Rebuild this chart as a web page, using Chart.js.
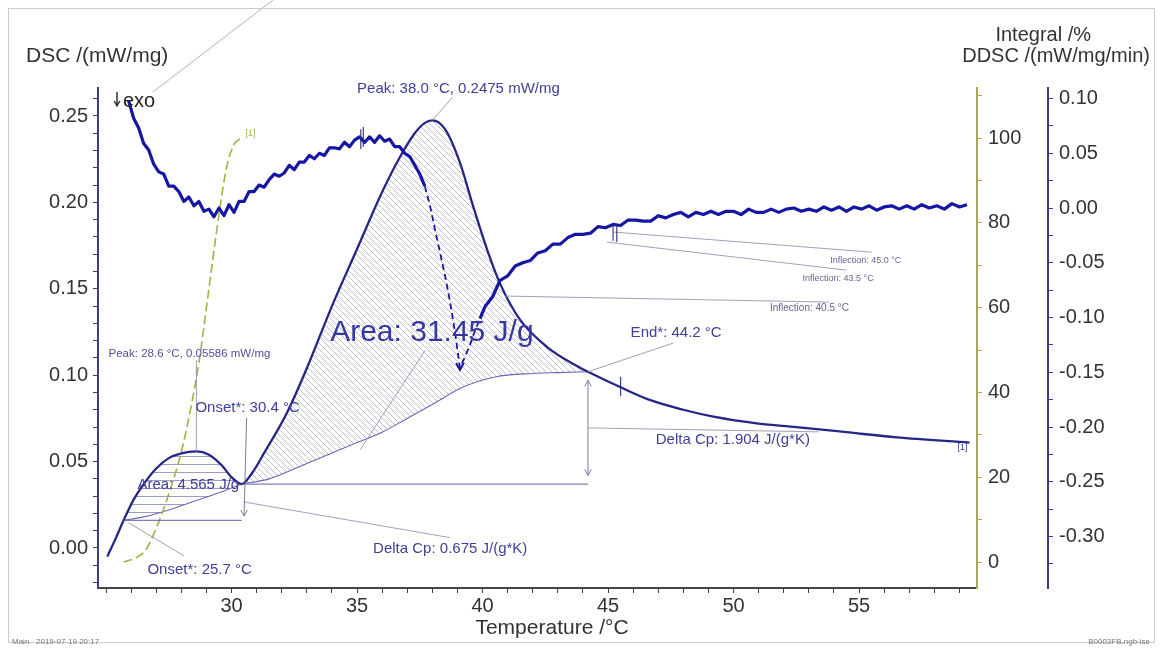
<!DOCTYPE html>
<html lang="en">
<head>
<meta charset="UTF-8">
<title>DSC / DDSC / Integral</title>
<script src="https://cdn.jsdelivr.net/npm/chart.js"></script>
<style>
    html, body { margin: 0; padding: 0; background: #fff; }
    #wrap { position: relative; width: 1161px; height: 650px; }
</style>
</head>
<body>
<div id="wrap"><canvas id="graphique" width="1161" height="650"></canvas></div>
<script>
// DSC heat flow (mW/mg) vs temperature
const dscTemp  = [25.05, 25.4, 25.7, 26.1, 26.5, 27.0, 27.5, 28.0, 28.6, 29.1, 29.6, 30.0, 30.4, 30.8, 31.3, 32.2, 33.0, 34.0, 35.0, 36.0, 36.7, 37.3, 37.7, 38.0, 38.5, 39.1, 39.6, 40.2, 40.7, 41.5, 42.6, 43.8, 44.2, 45.5, 46.6, 48.0, 49.2, 51.0, 52.5, 54.5, 56.5, 59.4];
const dscValue = [-0.005, 0.006, 0.016, 0.028, 0.037, 0.046, 0.052, 0.0548, 0.0559, 0.054, 0.048, 0.041, 0.037, 0.043, 0.055, 0.078, 0.104, 0.140, 0.173, 0.206, 0.226, 0.240, 0.246, 0.2475, 0.2425, 0.223, 0.199, 0.172, 0.153, 0.132, 0.116, 0.105, 0.102, 0.093, 0.086, 0.080, 0.076, 0.072, 0.070, 0.067, 0.064, 0.061];

// baselines used for the two peak areas
const bigBaseTemp    = [30.4, 31.5, 32.7, 34.0, 35.0, 36.0, 37.0, 38.0, 39.2, 40.5, 42.0, 43.0, 44.2];
const bigBaseValue   = [0.037, 0.040, 0.047, 0.055, 0.061, 0.067, 0.075, 0.083, 0.093, 0.099, 0.101, 0.1015, 0.102];
const smallBaseTemp  = [25.7, 26.5, 27.5, 28.5, 29.5, 30.4];
const smallBaseValue = [0.016, 0.018, 0.022, 0.027, 0.032, 0.037];

// partial integral of the first peak (%)
const integralTemp  = [25.7, 26.2, 26.6, 27.0, 27.5, 28.0, 28.4, 28.7, 29.0, 29.5, 29.8, 30.1, 30.4];
const integralValue = [0, 1, 3, 8, 16, 26, 37, 47, 60, 82, 93, 98.5, 100];

// DDSC (mW/mg/min), noisy derivative signal
const ddscTemp = [
    25.9, 26.1, 26.3, 26.5, 26.7, 26.9, 27.1, 27.3, 27.5, 27.7, 27.9, 28.1, 28.3, 28.5, 28.7, 28.9, 29.1, 29.3, 29.5, 29.7,
    29.9, 30.1, 30.3, 30.5, 30.7, 30.9, 31.1, 31.3, 31.5, 31.7, 31.9, 32.1, 32.3, 32.5, 32.7, 32.9, 33.1, 33.3, 33.5, 33.7,
    33.9, 34.1, 34.3, 34.5, 34.7, 34.9, 35.1, 35.3, 35.5, 35.7, 35.9, 36.1, 36.3, 36.5, 36.7, 36.9, 37.1, 37.3, 37.5,
    37.7, 37.9, 38.1, 38.3, 38.5, 38.7, 38.9, 39.1, 39.3, 39.5, 39.7, 39.9,
    40.1, 40.4, 40.7, 41.0, 41.3, 41.6, 41.9, 42.2, 42.5, 42.8, 43.1, 43.4, 43.7, 44.0, 44.3, 44.6, 44.9, 45.2, 45.5, 45.8,
    46.1, 46.4, 46.7, 47.0, 47.3, 47.6, 47.9, 48.2, 48.5, 48.8, 49.1, 49.4, 49.7, 50.0, 50.3, 50.6, 50.9, 51.2, 51.5, 51.8,
    52.1, 52.4, 52.7, 53.0, 53.3, 53.6, 53.9, 54.2, 54.5, 54.8, 55.1, 55.4, 55.7, 56.0, 56.3, 56.6, 56.9, 57.2, 57.5, 57.8,
    58.1, 58.4, 58.7, 59.0, 59.3
];
const ddscValue = [
    0.098, 0.082, 0.073, 0.059, 0.053, 0.040, 0.033, 0.031, 0.020, 0.020, 0.015, 0.006, 0.010, 0.002, 0.006, -0.003, -0.001, -0.008, 0.000, -0.007,
    0.003, -0.004, 0.006, 0.006, 0.015, 0.015, 0.021, 0.019, 0.026, 0.031, 0.029, 0.032, 0.039, 0.035, 0.042, 0.042, 0.048, 0.045, 0.050, 0.048,
    0.055, 0.055, 0.054, 0.060, 0.056, 0.062, 0.065, 0.060, 0.065, 0.060, 0.066, 0.061, 0.063, 0.056, 0.056, 0.050, 0.047, 0.039, 0.031,
    0.020, 0.003, -0.019, -0.040, -0.061, -0.085, -0.113, -0.146, -0.136, -0.125, -0.112, -0.101,
    -0.090, -0.081, -0.066, -0.062, -0.053, -0.050, -0.048, -0.041, -0.039, -0.033, -0.033, -0.027, -0.024, -0.024, -0.023, -0.017, -0.018, -0.015, -0.016, -0.011,
    -0.011, -0.012, -0.012, -0.007, -0.009, -0.006, -0.004, -0.008, -0.004, -0.006, -0.003, -0.006, -0.003, -0.003, -0.006, -0.001, -0.004, -0.004, -0.001, -0.004,
    -0.001, 0.000, -0.003, -0.001, -0.003, 0.001, -0.002, 0.001, -0.003, 0.001, -0.001, 0.002, -0.002, 0.001, 0.002, -0.001, 0.002, -0.001, 0.003, 0.000,
    0.002, -0.001, 0.004, 0.001, 0.003
];

// integration limits (onset / end temperatures)
const smallPeakRange = [25.7, 30.4];
const bigPeakRange = [30.4, 44.2];

// tick labels
const xTickLabels = [30, 35, 40, 45, 50, 55];
const dscTickLabels = [0.00, 0.05, 0.10, 0.15, 0.20, 0.25];
const integralTickLabels = [0, 20, 40, 60, 80, 100];
const ddscTickLabels = [0.10, 0.05, 0.00, -0.05, -0.10, -0.15, -0.20, -0.25, -0.30];

const FONT = '"Liberation Sans", Arial, Helvetica, sans-serif';
const NAVY = 'rgb(38,38,135)';
const NOTE = 'rgb(64,64,150)';
const LEADER = 'rgba(150,150,175,0.9)';
const OLIVE = 'rgb(170,172,70)';

const toPoints = (xs, ys) => xs.map((x, i) => ({ x: x, y: ys[i] }));
const within = (range) => (p) => p.x >= range[0] - 1e-9 && p.x <= range[1] + 1e-9;

const dscPoints = toPoints(dscTemp, dscValue);

// hatch patterns for the integrated areas
const canvas = document.getElementById('graphique');
const mainCtx = canvas.getContext('2d');
function makeHatch(kind) {
    const s = kind === 'diag' ? 6 : 8;
    const c = document.createElement('canvas');
    c.width = s; c.height = s;
    const g = c.getContext('2d');
    g.lineWidth = 1;
    g.beginPath();
    if (kind === 'diag') {
        g.strokeStyle = 'rgba(130,130,160,0.5)';
        for (const k of [-s, 0, s]) { g.moveTo(k, 0); g.lineTo(k + s, s); }
    } else {
        g.strokeStyle = 'rgba(90,90,165,0.6)';
        g.moveTo(0, 0.5); g.lineTo(s, 0.5);
    }
    g.stroke();
    return mainCtx.createPattern(c, 'repeat');
}

function labelFrom(list, digits) {
    return function (value) {
        const hit = list.find(l => Math.abs(l - value) < 1e-6);
        if (hit === undefined) return '';
        return digits ? hit.toFixed(digits) : String(hit);
    };
}

// text notes, placed in (°C, mW/mg) units
const notes = [
    { text: 'Peak: 38.0 °C, 0.2475 mW/mg', t: 35.0, v: 0.2655, size: 15, color: NOTE },
    { text: 'Area: 31.45 J/g', t: 33.93, v: 0.1244, size: 30, color: 'rgb(55,55,160)' },
    { text: 'End*: 44.2 °C', t: 45.9, v: 0.1244, size: 15, color: NOTE },
    { text: 'Delta Cp: 1.904 J/(g*K)', t: 46.9, v: 0.0626, size: 15, color: NOTE },
    { text: 'Inflection: 45.0 °C', t: 53.85, v: 0.1666, size: 9, color: 'rgb(100,100,150)' },
    { text: 'Inflection: 43.5 °C', t: 52.75, v: 0.1561, size: 9, color: 'rgb(100,100,150)' },
    { text: 'Inflection: 40.5 °C', t: 51.45, v: 0.1388, size: 10, color: 'rgb(100,100,150)' },
    { text: 'Peak: 28.6 °C, 0.05586 mW/mg', t: 25.1, v: 0.1123, size: 11.5, color: 'rgb(80,80,155)' },
    { text: 'Onset*: 30.4 °C', t: 28.56, v: 0.0810, size: 15, color: NOTE },
    { text: 'Area: 4.565 J/g', t: 26.25, v: 0.0365, size: 15, color: NOTE },
    { text: 'Delta Cp: 0.675 J/(g*K)', t: 35.64, v: -0.0005, size: 15, color: NOTE },
    { text: 'Onset*: 25.7 °C', t: 26.65, v: -0.0126, size: 15, color: NOTE }
];

// thin leader lines from the notes to the curve features
const leaders = [
    [[38.82, 0.261], [38.0, 0.2475]],
    [[47.6, 0.1186], [44.2, 0.102]],
    [[44.2, 0.0695], [53.4, 0.0672]],
    [[45.24, 0.1828], [55.5, 0.1712]],
    [[44.96, 0.1770], [54.5, 0.1608]],
    [[40.9, 0.1458], [53.8, 0.1423]],
    [[28.6, 0.1088], [28.6, 0.0559]],
    [[30.47, 0.0267], [38.7, 0.006]],
    [[25.9, 0.0146], [28.1, -0.0045]],
    [[37.72, 0.1146], [35.13, 0.057]]
];

function arrowHead(ctx, x, y, dir, size) {
    ctx.beginPath();
    ctx.moveTo(x - size * 0.55, y - dir * size);
    ctx.lineTo(x, y);
    ctx.lineTo(x + size * 0.55, y - dir * size);
    ctx.stroke();
}

const notesPlugin = {
    id: 'dscNotes',
    afterDatasetsDraw(chart) {
        const { ctx, scales } = chart;
        const px = t => scales.x.getPixelForValue(t);
        const py = v => scales.yDsc.getPixelForValue(v);
        const pd = v => scales.yD.getPixelForValue(v);
        ctx.save();

        // leader lines
        ctx.strokeStyle = LEADER;
        ctx.lineWidth = 1;
        leaders.forEach(([a, b]) => {
            ctx.beginPath();
            ctx.moveTo(px(a[0]), py(a[1]));
            ctx.lineTo(px(b[0]), py(b[1]));
            ctx.stroke();
        });

        // extrapolated baselines for the step heights
        ctx.strokeStyle = 'rgba(95,95,170,0.8)';
        ctx.lineWidth = 1.2;
        ctx.beginPath();
        ctx.moveTo(px(bigPeakRange[0]), py(bigBaseValue[0]));
        ctx.lineTo(px(bigPeakRange[1]), py(bigBaseValue[0]));
        ctx.moveTo(px(smallPeakRange[0]), py(smallBaseValue[0]));
        ctx.lineTo(px(smallPeakRange[1]), py(smallBaseValue[0]));
        ctx.stroke();

        // delta Cp double arrow at the end temperature
        ctx.strokeStyle = 'rgba(110,110,150,0.9)';
        ctx.lineWidth = 1;
        const xe = px(bigPeakRange[1]);
        const yTop = py(0.097), yBot = py(0.042);
        ctx.beginPath(); ctx.moveTo(xe, yTop); ctx.lineTo(xe, yBot); ctx.stroke();
        arrowHead(ctx, xe, yTop, -1, 6);
        arrowHead(ctx, xe, yBot, 1, 6);

        // onset arrow of the first step
        const xo = px(30.5);
        ctx.beginPath(); ctx.moveTo(px(30.6), py(0.0753)); ctx.lineTo(xo, py(0.0185)); ctx.stroke();
        arrowHead(ctx, xo, py(0.0185), 1, 6);

        // small markers on the curves
        ctx.strokeStyle = 'rgba(40,40,120,0.9)';
        ctx.lineWidth = 1.2;
        [[35.15, 0.072, 0.054], [35.25, 0.074, 0.056], [45.2, -0.015, -0.030], [45.35, -0.016, -0.031]].forEach(([t, a, b]) => {
            ctx.beginPath(); ctx.moveTo(px(t), pd(a)); ctx.lineTo(px(t), pd(b)); ctx.stroke();
        });
        ctx.beginPath(); ctx.moveTo(px(45.5), py(0.099)); ctx.lineTo(px(45.5), py(0.088)); ctx.stroke();

        // arrow at the DDSC minimum
        const iMin = ddscValue.indexOf(Math.min(...ddscValue));
        ctx.strokeStyle = 'rgb(25,25,150)';
        ctx.lineWidth = 2;
        arrowHead(ctx, px(ddscTemp[iMin]), pd(ddscValue[iMin]) + 2, 1, 7);

        // text notes
        ctx.textBaseline = 'middle';
        ctx.textAlign = 'left';
        notes.forEach(n => {
            ctx.font = n.size + 'px ' + FONT;
            ctx.fillStyle = n.color;
            ctx.fillText(n.text, px(n.t), py(n.v));
        });

        // curve tags
        ctx.font = '9px ' + FONT;
        ctx.fillStyle = OLIVE;
        ctx.fillText('[1]', px(integralTemp[integralTemp.length - 1]) + 4, scales.yInt.getPixelForValue(101));
        ctx.fillStyle = NOTE;
        ctx.fillText('[1]', px(dscTemp[dscTemp.length - 1]) - 12, py(dscValue[dscValue.length - 1]) + 5);

        ctx.restore();
    },
    afterDraw(chart) {
        const { ctx, chartArea } = chart;
        ctx.save();
        ctx.fillStyle = '#333';
        ctx.textBaseline = 'alphabetic';

        ctx.font = '21px ' + FONT;
        ctx.textAlign = 'left';
        ctx.fillText('DSC /(mW/mg)', 26, 62);

        ctx.font = '20px ' + FONT;
        ctx.textAlign = 'right';
        ctx.fillText('Integral /%', 1091, 41);
        ctx.fillText('DDSC /(mW/mg/min)', 1150, 62);

        ctx.textAlign = 'center';
        ctx.font = '21px ' + FONT;
        ctx.fillText('Temperature /°C', 552, 634);

        // exo marker
        const ex = chartArea.left + 19, ey = chartArea.top + 4;
        ctx.strokeStyle = '#333';
        ctx.lineWidth = 1.5;
        ctx.beginPath(); ctx.moveTo(ex, ey); ctx.lineTo(ex, ey + 14); ctx.stroke();
        arrowHead(ctx, ex, ey + 14, 1, 5);
        ctx.textAlign = 'left';
        ctx.font = '20px ' + FONT;
        ctx.fillStyle = '#222';
        ctx.fillText('exo', ex + 6, ey + 15);

        // pointer line leaving the sheet
        ctx.strokeStyle = 'rgba(170,170,170,0.9)';
        ctx.lineWidth = 1;
        ctx.beginPath(); ctx.moveTo(153, 92); ctx.lineTo(273, 0); ctx.stroke();

        // sheet frame
        ctx.strokeStyle = 'rgba(205,205,205,1)';
        ctx.strokeRect(8.5, 8.5, 1146, 634);

        // footer
        ctx.font = '8px ' + FONT;
        ctx.fillStyle = '#777';
        ctx.textAlign = 'left';
        ctx.fillText('Main   2019-07-19 20:17', 12, 644);
        ctx.textAlign = 'right';
        ctx.fillText('B0003FB.ngb-ise', 1150, 644);
        ctx.restore();
    }
};

Chart.defaults.font.family = FONT;

const myChart = new Chart(mainCtx, {
    type: 'line',
    data: {
        datasets: [
            {   // 0: DSC
                data: dscPoints, yAxisID: 'yDsc',
                borderColor: NAVY, borderWidth: 2.3, pointRadius: 0,
                cubicInterpolationMode: 'monotone', fill: false, order: 1
            },
            {   // 1: DDSC
                data: toPoints(ddscTemp, ddscValue), yAxisID: 'yD',
                borderColor: 'rgb(22,22,165)', borderWidth: 3.2, pointRadius: 0,
                borderJoinStyle: 'round',
                tension: 0, fill: false, order: 0,
                segment: {
                    borderDash: c => (c.p0.parsed.x >= 37.6 && c.p1.parsed.x <= 39.95) ? [6, 4] : undefined,
                    borderWidth: c => (c.p0.parsed.x >= 37.6 && c.p1.parsed.x <= 39.95) ? 1.8 : undefined
                }
            },
            {   // 2: integral
                data: toPoints(integralTemp, integralValue), yAxisID: 'yInt',
                borderColor: OLIVE, borderWidth: 1.6, borderDash: [9, 4], pointRadius: 0,
                cubicInterpolationMode: 'monotone', fill: false, order: 2
            },
            {   // 3: main peak baseline
                data: toPoints(bigBaseTemp, bigBaseValue), yAxisID: 'yDsc',
                borderColor: 'rgba(80,80,160,0.85)', borderWidth: 1.1, pointRadius: 0,
                cubicInterpolationMode: 'monotone', fill: false, order: 3
            },
            {   // 4: first peak baseline
                data: toPoints(smallBaseTemp, smallBaseValue), yAxisID: 'yDsc',
                borderColor: 'rgba(80,80,160,0.85)', borderWidth: 1.1, pointRadius: 0,
                cubicInterpolationMode: 'monotone', fill: false, order: 3
            },
            {   // 5: hatched main peak area
                data: dscPoints.filter(within(bigPeakRange)), yAxisID: 'yDsc',
                borderWidth: 0, borderColor: 'rgba(0,0,0,0)', pointRadius: 0,
                cubicInterpolationMode: 'monotone',
                backgroundColor: makeHatch('diag'), fill: { target: 3 }, order: 5
            },
            {   // 6: hatched first peak area
                data: dscPoints.filter(within(smallPeakRange)), yAxisID: 'yDsc',
                borderWidth: 0, borderColor: 'rgba(0,0,0,0)', pointRadius: 0,
                cubicInterpolationMode: 'monotone',
                backgroundColor: makeHatch('horiz'), fill: { target: 4 }, order: 5
            }
        ]
    },
    options: {
        responsive: false,
        animation: false,
        devicePixelRatio: 1,
        layout: { padding: { top: 88, left: 0, right: 0, bottom: 0 } },
        plugins: { legend: { display: false }, tooltip: { enabled: false } },
        scales: {
            x: {
                type: 'linear', position: 'bottom', min: 24.68, max: 59.7,
                afterFit: s => { s.height = 62; },
                border: { color: '#444', width: 2 },
                grid: { drawOnChartArea: false, tickLength: 5, color: '#444' },
                ticks: {
                    stepSize: 1, autoSkip: false, maxRotation: 0, includeBounds: false,
                    padding: 1, color: '#333', font: { size: 20 },
                    callback: labelFrom(xTickLabels, 0)
                }
            },
            yDsc: {
                type: 'linear', position: 'left', min: -0.02315, max: 0.2662,
                afterFit: s => { s.width = 98; },
                border: { color: 'rgb(60,60,140)', width: 2 },
                grid: { drawOnChartArea: false, tickLength: 5, color: 'rgb(60,60,140)' },
                ticks: {
                    stepSize: 0.01, autoSkip: false, includeBounds: false,
                    padding: 5, color: '#333', font: { size: 20 },
                    callback: labelFrom(dscTickLabels, 2)
                }
            },
            yInt: {
                type: 'linear', position: 'right', weight: 0, min: -6.13, max: 111.8,
                afterFit: s => { s.width = 71; },
                border: { color: OLIVE, width: 2 },
                grid: { drawOnChartArea: false, tickLength: 5, color: OLIVE },
                ticks: {
                    stepSize: 10, autoSkip: false, includeBounds: false,
                    padding: 6, color: '#333', font: { size: 20 },
                    callback: labelFrom(integralTickLabels, 0)
                }
            },
            yD: {
                type: 'linear', position: 'right', weight: 1, min: -0.347, max: 0.1096,
                afterFit: s => { s.width = 113; },
                border: { color: 'rgb(60,60,130)', width: 2 },
                grid: { drawOnChartArea: false, tickLength: 5, color: 'rgb(60,60,130)' },
                ticks: {
                    stepSize: 0.025, autoSkip: false, includeBounds: false,
                    padding: 6, color: '#333', font: { size: 20 },
                    callback: labelFrom(ddscTickLabels, 2)
                }
            }
        }
    },
    plugins: [notesPlugin]
});
</script>
</body>
</html>
